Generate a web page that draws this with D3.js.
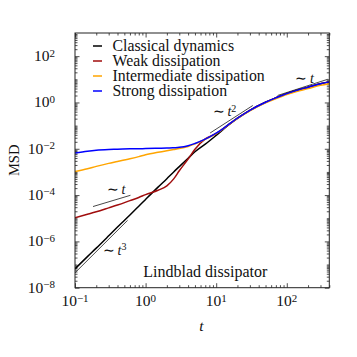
<!DOCTYPE html>
<html>
<head>
<meta charset="utf-8">
<script src="https://cdn.jsdelivr.net/npm/d3@7"></script>
<style>
  body { margin: 0; background: #fff; }
  svg { display: block; }
  text { font-family: "Liberation Serif", "Times New Roman", serif; fill: #111; }
</style>
</head>
<body>
<div id="chart"></div>
<script>
// time grid shared by all curves
const times = [0.1, 0.15, 0.2, 0.3, 0.4, 0.6, 0.8, 1, 1.5, 2, 2.5, 3, 4, 5, 7, 10, 15, 20, 30, 50, 70, 100, 150, 200, 300, 400];

// MSD values
const classical = [6.5e-8, 2.2e-7, 5.1e-7, 1.74e-6, 4.2e-6, 1.38e-5, 3.3e-5, 6.5e-5, 2.2e-4, 5.1e-4, 1.0e-3, 1.7e-3, 3.9e-3, 7.4e-3, 1.58e-2, 3.8e-2, 0.107, 0.204, 0.457, 1.02, 1.58, 2.45, 3.63, 4.57, 6.46, 7.76];
const weak = [1.05e-5, 1.48e-5, 1.9e-5, 2.8e-5, 3.7e-5, 5.75e-5, 7.9e-5, 1.05e-4, 1.62e-4, 2.5e-4, 5.0e-4, 1.12e-3, 3.6e-3, 9.5e-3, 2.7e-2, 4.57e-2, 0.11, 0.209, 0.457, 1.02, 1.58, 2.45, 3.63, 4.57, 6.46, 7.76];
const intermediate = [1.05e-3, 1.38e-3, 1.74e-3, 2.34e-3, 2.82e-3, 3.7e-3, 4.57e-3, 5.5e-3, 7.1e-3, 8.3e-3, 9.3e-3, 1.02e-2, 1.26e-2, 1.62e-2, 2.57e-2, 4.57e-2, 0.11, 0.204, 0.437, 0.955, 1.45, 2.19, 3.16, 3.98, 5.5, 6.46];
const strong = [6.5e-3, 7.9e-3, 8.7e-3, 9.3e-3, 9.5e-3, 9.9e-3, 1.0e-2, 1.02e-2, 1.05e-2, 1.07e-2, 1.11e-2, 1.15e-2, 1.35e-2, 1.7e-2, 2.6e-2, 4.7e-2, 0.112, 0.209, 0.457, 1.02, 1.58, 2.45, 3.63, 4.57, 6.46, 7.76];

const seriesNames = ["Classical dynamics", "Weak dissipation", "Intermediate dissipation", "Strong dissipation"];
const seriesColors = ["#000000", "#a00d0d", "#ffa500", "#0000ff"];
const seriesValues = [classical, weak, intermediate, strong];

// power-law guide segments [t, MSD] and their labels
const guides = [
  [[0.18, 3.2e-5], [0.61, 9.8e-5]],
  [[0.1, 4.4e-8], [0.556, 8.1e-6]],
  [[8.2, 4.8e-2], [33, 0.74]],
  [[74, 2.0], [379, 10]]
];
const guideLabels = [
  { t: 0.28, v: 1.07e-4, exp: "" },
  { t: 0.247, v: 2.6e-7, exp: "3" },
  { t: 8.9, v: 0.26, exp: "2" },
  { t: 132, v: 7.2, exp: "" }
];

const xTickLabels = [0.1, 1, 10, 100];
const xExps = ["−1", "0", "1", "2"];
const yTickLabels = [1e-8, 1e-6, 1e-4, 1e-2, 1, 100];
const yExps = ["−8", "−6", "−4", "−2", "0", "2"];

const W = 357, H = 357;
const pLeft = 75, pRight = 329.3, pTop = 33, pBottom = 287.7;

const x = d3.scaleLog().domain([0.1, 400]).range([pLeft, pRight]);
const y = d3.scaleLog().domain([1e-8, 1e3]).range([pBottom, pTop]);

const svg = d3.select("#chart").append("svg")
  .attr("width", W).attr("height", H);

svg.append("defs").append("clipPath").attr("id", "clip")
  .append("rect").attr("x", pLeft).attr("y", pTop)
  .attr("width", pRight - pLeft).attr("height", pBottom - pTop);

// minor tick values
const xMinor = [];
for (let e = -1; e <= 2; e++) {
  for (let k = 2; k <= 9; k++) {
    const v = k * Math.pow(10, e);
    if (v <= 400) xMinor.push(v);
  }
}
const yMinor = [];
for (let e = -8; e <= 2; e++) {
  for (let k = 1; k <= 9; k++) {
    const v = k * Math.pow(10, e);
    if (!(k === 1 && e % 2 === 0)) yMinor.push(v);
  }
}

function styleAxis(g) {
  g.select(".domain").remove();
  g.selectAll(".tick line").attr("stroke", "#222").attr("stroke-width", 0.8);
}

// bottom and top
svg.append("g").attr("transform", `translate(0,${pBottom})`)
  .call(d3.axisBottom(x).tickValues(xTickLabels).tickSize(-4.5).tickFormat(""))
  .call(styleAxis);
svg.append("g").attr("transform", `translate(0,${pBottom})`)
  .call(d3.axisBottom(x).tickValues(xMinor).tickSize(-2.5).tickFormat(""))
  .call(styleAxis);
svg.append("g").attr("transform", `translate(0,${pTop})`)
  .call(d3.axisTop(x).tickValues(xTickLabels).tickSize(-4.5).tickFormat(""))
  .call(styleAxis);
svg.append("g").attr("transform", `translate(0,${pTop})`)
  .call(d3.axisTop(x).tickValues(xMinor).tickSize(-2.5).tickFormat(""))
  .call(styleAxis);

// left and right
svg.append("g").attr("transform", `translate(${pLeft},0)`)
  .call(d3.axisLeft(y).tickValues(yTickLabels).tickSize(-4.5).tickFormat(""))
  .call(styleAxis);
svg.append("g").attr("transform", `translate(${pLeft},0)`)
  .call(d3.axisLeft(y).tickValues(yMinor).tickSize(-2.5).tickFormat(""))
  .call(styleAxis);
svg.append("g").attr("transform", `translate(${pRight},0)`)
  .call(d3.axisRight(y).tickValues(yTickLabels).tickSize(-4.5).tickFormat(""))
  .call(styleAxis);
svg.append("g").attr("transform", `translate(${pRight},0)`)
  .call(d3.axisRight(y).tickValues(yMinor).tickSize(-2.5).tickFormat(""))
  .call(styleAxis);

// tick labels with superscripts
xTickLabels.forEach((v, i) => {
  const t = svg.append("text")
    .attr("x", x(v)).attr("y", pBottom + 18.5)
    .attr("text-anchor", "middle").style("font-size", "15.5px")
    .text("10");
  t.append("tspan").attr("dy", "-0.42em").style("font-size", "11px").text(xExps[i]);
});
yTickLabels.forEach((v, i) => {
  const t = svg.append("text")
    .attr("x", pLeft - 20).attr("y", y(v) + 5)
    .attr("text-anchor", "end").style("font-size", "15.5px")
    .text("10");
  t.append("tspan").attr("dy", "-0.42em").style("font-size", "11px").text(yExps[i]);
});

// axis titles
svg.append("text")
  .attr("x", 201.5).attr("y", 331)
  .attr("text-anchor", "middle")
  .style("font-size", "15.5px").style("font-style", "italic")
  .text("t");
svg.append("text")
  .attr("transform", `translate(19,${(pTop + pBottom) / 2}) rotate(-90)`)
  .attr("text-anchor", "middle")
  .style("font-size", "14.5px")
  .text("MSD");

// curves
const line = d3.line()
  .x(d => x(d[0]))
  .y(d => y(d[1]))
  .curve(d3.curveMonotoneX);

const plot = svg.append("g").attr("clip-path", "url(#clip)");

seriesValues.forEach((vals, i) => {
  plot.append("path")
    .datum(times.map((t, j) => [t, vals[j]]))
    .attr("d", line)
    .attr("fill", "none")
    .attr("stroke", seriesColors[i])
    .attr("stroke-width", 1.5);
});

// guide segments
guides.forEach(seg => {
  plot.append("path")
    .datum(seg)
    .attr("d", d3.line().x(d => x(d[0])).y(d => y(d[1])))
    .attr("stroke", "#333")
    .attr("stroke-width", 0.9)
    .attr("fill", "none");
});

guideLabels.forEach(lb => {
  const t = svg.append("text")
    .attr("x", x(lb.t)).attr("y", y(lb.v))
    .style("font-size", "14px");
  t.append("tspan").text("∼\u2009");
  t.append("tspan").style("font-style", "italic").text("t");
  if (lb.exp) t.append("tspan").attr("dy", "-0.45em").style("font-size", "10px").text(lb.exp);
});

// annotation
svg.append("text")
  .attr("x", 143.3).attr("y", 276.5)
  .style("font-size", "16px")
  .text("Lindblad dissipator");

// legend
const legend = svg.append("g");
seriesNames.forEach((name, i) => {
  const ly = 46 + i * 15;
  legend.append("line")
    .attr("x1", 93).attr("x2", 102)
    .attr("y1", ly).attr("y2", ly)
    .attr("stroke", seriesColors[i]).attr("stroke-width", 1.5);
  legend.append("text")
    .attr("x", 112.5).attr("y", ly + 5)
    .style("font-size", "15.8px")
    .text(name);
});

// frame
svg.append("rect")
  .attr("x", pLeft).attr("y", pTop)
  .attr("width", pRight - pLeft).attr("height", pBottom - pTop)
  .attr("fill", "none").attr("stroke", "#222").attr("stroke-width", 1);
</script>
</body>
</html>
